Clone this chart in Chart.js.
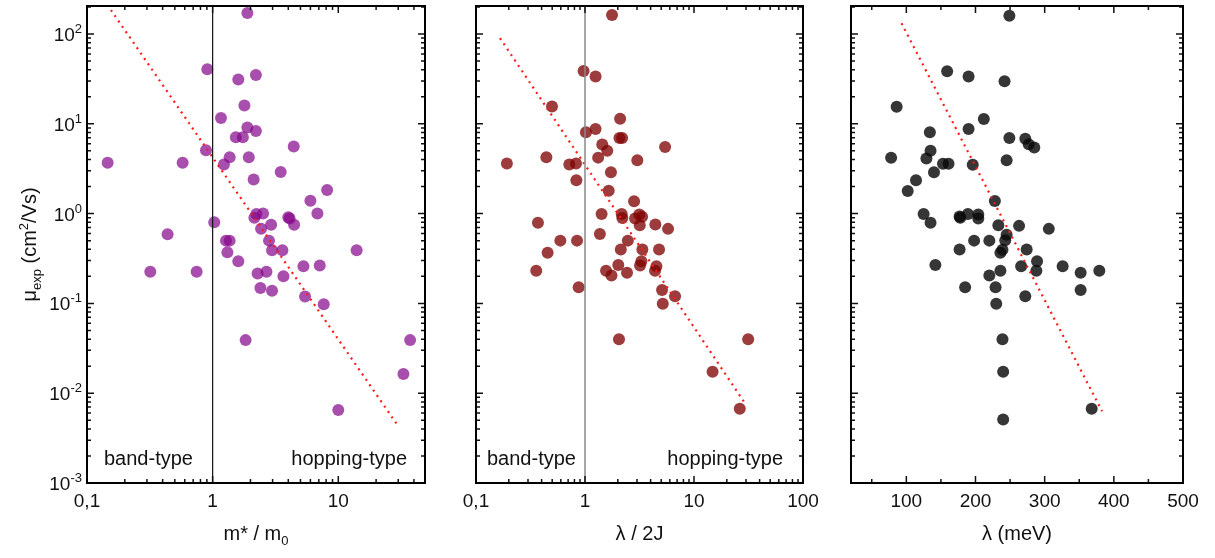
<!DOCTYPE html>
<html>
<head>
<meta charset="utf-8">
<script src="https://cdn.jsdelivr.net/npm/chart.js@4.4.0/dist/chart.umd.min.js"></script>
<style>
  body { margin: 0; background: #fff; }
  #wrap { position: relative; width: 1215px; height: 558px; }
  canvas { position: absolute; top: 0; }
</style>
</head>
<body>
<div id="wrap">
  <canvas id="c1" width="440" height="558" style="left:0px"></canvas>
  <canvas id="c2" width="390" height="558" style="left:440px"></canvas>
  <canvas id="c3" width="385" height="558" style="left:830px"></canvas>
</div>
<script>
// panel 1: mobility vs effective mass
const massRatio = [1.89,0.907,1.60,2.21,1.79,1.165,1.89,2.21,1.53,1.74,4.42,0.885,0.146,0.577,1.23,1.366,1.94,2.12,3.48,8.15,6.0,6.82,1.03,2.23,2.52,2.15,4.0,4.1,4.45,2.92,2.43,0.438,1.277,1.366,2.81,1.31,2.97,3.59,14.0,1.60,5.28,7.12,0.319,0.746,2.28,2.68,3.66,2.4,2.97,5.44,7.66,1.83,37.3,33.0,10.0];
const muMass = [171,40.5,31.1,35,16.0,11.6,9.1,8.3,7.1,7.1,5.6,5.06,3.69,3.69,3.53,4.23,4.25,2.4,2.9,1.83,1.39,1.0,0.80,0.99,1.0,0.90,0.91,0.88,0.75,0.75,0.68,0.59,0.50,0.50,0.50,0.37,0.39,0.39,0.39,0.295,0.26,0.265,0.225,0.225,0.215,0.225,0.2,0.148,0.138,0.119,0.098,0.039,0.039,0.0164,0.0065];
const fitMassX = [0.155, 29];
const fitMassY = [185, 0.0046];

// panel 2: mobility vs lambda/2J
const lambda2J = [1.77,0.97,1.25,0.498,2.10,1.25,1.02,2.07,2.19,1.44,5.43,1.60,0.192,0.442,0.718,0.827,1.32,3.02,0.833,1.73,1.65,2.82,1.42,2.17,2.2,2.88,3.15,3.34,3.18,4.42,5.78,0.37,1.37,0.594,0.845,2.47,2.13,3.36,4.78,0.454,3.29,2.02,3.2,4.52,0.357,1.56,2.43,4.39,1.75,0.875,5.09,6.7,5.17,2.05,31.4,14.8,26.3];
const muLambda2J = [163,38.8,33.6,15.6,11.4,8.73,8.07,6.94,6.94,5.89,5.5,5.01,3.62,4.23,3.53,3.62,4.2,3.92,2.35,2.88,1.8,1.37,0.99,0.99,0.895,0.88,0.98,0.92,0.74,0.755,0.676,0.79,0.594,0.50,0.50,0.50,0.398,0.398,0.398,0.366,0.295,0.267,0.265,0.26,0.231,0.231,0.219,0.231,0.205,0.151,0.141,0.12,0.099,0.040,0.040,0.0173,0.0067];
const fit2JX = [0.166, 29];
const fit2JY = [90, 0.0079];

// panel 3: mobility vs lambda (meV)
const lambdaMeV = [249,159,190,242,86,212,190,134,249,272,277,285,135,78,129,153,161,196,245,140,114,102,228,125,177,178,189,204,204,135,233,263,306,245,198,220,243,177,239,236,274,289,142,266,326,236,288,352,379,220,185,229,272,352,230,239,240,240,368];
const muLambdaMeV = [160,38.5,33.6,29.8,15.5,11.3,8.73,8.07,6.94,6.81,5.9,5.45,5.0,4.19,4.1,3.59,3.59,3.5,3.92,2.88,2.35,1.79,1.38,0.99,0.93,0.9,0.99,0.98,0.88,0.79,0.74,0.73,0.676,0.58,0.50,0.50,0.505,0.398,0.395,0.366,0.398,0.295,0.267,0.26,0.26,0.231,0.231,0.219,0.231,0.205,0.151,0.151,0.12,0.141,0.099,0.040,0.0173,0.0051,0.0067];
const fitMeVX = [93, 383];
const fitMeVY = [132, 0.0063];

// tick labels (y labels are 10 with these exponents)
const yTickValues = [0.001, 0.01, 0.1, 1, 10, 100];
const yTickExponents = ['-3', '-2', '-1', '0', '1', '2'];
const xTickValues1 = [0.1, 1, 10];
const xTickLabels1 = ['0,1', '1', '10'];
const xTickValues2 = [0.1, 1, 10, 100];
const xTickLabels2 = ['0,1', '1', '10', '100'];
const xTickValues3 = [100, 200, 300, 400, 500];
const xTickLabels3 = ['100', '200', '300', '400', '500'];

const FONT = "'Liberation Sans', Arial, sans-serif";
const Y_MIN = 0.001, Y_MAX = 205;

function pts(xs, ys) {
    return xs.map((x, i) => ({ x: x, y: ys[i] }));
}

function logSteps(min, max) {
    var out = [];
    for (var d = Math.floor(Math.log10(min)); d <= Math.ceil(Math.log10(max)); d++) {
        for (var k = 1; k <= 9; k++) {
            var v = k * Math.pow(10, d);
            if (v >= min * 0.999 && v <= max * 1.001) out.push({ v: v, major: k === 1 });
        }
    }
    return out;
}

// draw text made of runs (for sub/superscripts); align 'center' or 'right'
function drawRuns(ctx, runs, x, y, align) {
    var w = 0;
    runs.forEach(r => { ctx.font = r.size + 'px ' + FONT; w += ctx.measureText(r.t).width; });
    var cx = align === 'right' ? x - w : x - w / 2;
    runs.forEach(r => {
        ctx.font = r.size + 'px ' + FONT;
        ctx.fillText(r.t, cx, y + (r.dy || 0));
        cx += ctx.measureText(r.t).width;
    });
}

// frame, inward ticks on all sides, divider line, labels
const frameTicks = {
    id: 'frameTicks',
    afterDraw(chart, args, o) {
        const ctx = chart.ctx;
        const a = chart.chartArea;
        const xs = chart.scales.x, ys = chart.scales.y;
        ctx.save();

        if (o.divider) {
            const px = xs.getPixelForValue(1);
            ctx.strokeStyle = o.divider;
            ctx.lineWidth = o.dividerWidth;
            ctx.beginPath();
            ctx.moveTo(px, a.top);
            ctx.lineTo(px, a.bottom);
            ctx.stroke();
        }

        ctx.strokeStyle = '#111';
        ctx.lineWidth = 1.5;
        ctx.beginPath();
        logSteps(Y_MIN, Y_MAX).forEach(t => {
            const py = ys.getPixelForValue(t.v);
            const len = t.major ? 7 : 4;
            ctx.moveTo(a.left, py); ctx.lineTo(a.left + len, py);
            ctx.moveTo(a.right, py); ctx.lineTo(a.right - len, py);
        });
        var xt;
        if (o.xLog) {
            xt = logSteps(xs.min, xs.max);
        } else {
            xt = [];
            for (var v = 50; v <= xs.max; v += 50) xt.push({ v: v, major: v % 100 === 0 });
        }
        xt.forEach(t => {
            const px = xs.getPixelForValue(t.v);
            const len = t.major ? 7 : 4;
            ctx.moveTo(px, a.bottom); ctx.lineTo(px, a.bottom - len);
            ctx.moveTo(px, a.top); ctx.lineTo(px, a.top + len);
        });
        ctx.stroke();

        ctx.lineWidth = 2;
        ctx.strokeStyle = '#000';
        ctx.strokeRect(a.left, a.top, a.right - a.left, a.bottom - a.top);

        ctx.fillStyle = '#111';
        ctx.textBaseline = 'alphabetic';
        if (o.regions) {
            ctx.font = '20px ' + FONT;
            ctx.textAlign = 'left';
            ctx.fillText('band-type', a.left + o.regions[0], a.bottom - 18);
            ctx.textAlign = 'right';
            ctx.fillText('hopping-type', a.right - o.regions[1], a.bottom - 18);
        }
        ctx.textAlign = 'left';

        // y tick labels 10^n
        if (o.yLabels) {
            yTickValues.forEach((v, i) => {
                const py = ys.getPixelForValue(v);
                drawRuns(ctx, [{ t: '10', size: 19 }, { t: yTickExponents[i], size: 13, dy: -8 }], a.left - 5, py + 7, 'right');
            });
        }

        drawRuns(ctx, o.xTitle, (a.left + a.right) / 2, 540);

        if (o.yTitle) {
            ctx.translate(36, (a.top + a.bottom) / 2);
            ctx.rotate(-Math.PI / 2);
            drawRuns(ctx, o.yTitle, 0, 0);
        }
        ctx.restore();
    }
};

function makeChart(id, cfg) {
    const xScale = {
        type: cfg.xLog ? 'logarithmic' : 'linear',
        min: cfg.xMin,
        max: cfg.xMax,
        afterBuildTicks: s => { s.ticks = cfg.xTicks.map(v => ({ value: v })); },
        ticks: {
            callback: (v) => cfg.xLabels[cfg.xTicks.indexOf(v)],
            font: { family: FONT, size: 19 },
            color: '#111',
            padding: 4,
            maxRotation: 0,
            autoSkip: false
        },
        grid: { display: false, drawTicks: true, tickLength: 3, color: 'rgba(0,0,0,0)' },
        border: { display: false },
        afterFit: s => { s.height = 75; }
    };
    const yScale = {
        type: 'logarithmic',
        min: Y_MIN,
        max: Y_MAX,
        afterBuildTicks: s => { s.ticks = yTickValues.map(v => ({ value: v })); },
        ticks: { display: false },
        grid: { display: false },
        border: { display: false },
        afterFit: s => { s.width = cfg.yWidth; }
    };
    return new Chart(document.getElementById(id), {
        type: 'scatter',
        data: {
            datasets: [
                {
                    type: 'line',
                    data: pts(cfg.fitX, cfg.fitY),
                    borderColor: '#ff1a1a',
                    borderWidth: 2.2,
                    borderDash: [2, 4.5],
                    pointRadius: 0,
                    fill: false
                },
                {
                    data: pts(cfg.xs, cfg.ys),
                    backgroundColor: cfg.color,
                    borderWidth: 0,
                    pointRadius: 6,
                    pointHoverRadius: 6
                }
            ]
        },
        options: {
            responsive: false,
            animation: false,
            devicePixelRatio: 1,
            layout: { padding: { top: 5, right: cfg.padRight, left: 0, bottom: 0 } },
            plugins: {
                legend: { display: false },
                tooltip: { enabled: false },
                frameTicks: cfg.frame
            },
            scales: { x: xScale, y: yScale }
        },
        plugins: [frameTicks]
    });
}

makeChart('c1', {
    xs: massRatio, ys: muMass, fitX: fitMassX, fitY: fitMassY,
    color: 'rgba(135,10,140,0.72)',
    xLog: true, xMin: 0.1, xMax: 49, xTicks: xTickValues1, xLabels: xTickLabels1,
    yWidth: 87, padRight: 15,
    frame: {
        xLog: true, yLabels: true, divider: '#111', dividerWidth: 1.2, regions: [17, 18],
        xTitle: [{ t: 'm* / m', size: 20 }, { t: '0', size: 13, dy: 5 }],
        yTitle: [{ t: 'μ', size: 20 }, { t: 'exp', size: 13, dy: 5 }, { t: ' (cm', size: 20 }, { t: '2', size: 13, dy: -8 }, { t: '/Vs)', size: 20 }]
    }
});

makeChart('c2', {
    xs: lambda2J, ys: muLambda2J, fitX: fit2JX, fitY: fit2JY,
    color: 'rgba(128,5,5,0.78)',
    xLog: true, xMin: 0.1, xMax: 100, xTicks: xTickValues2, xLabels: xTickLabels2,
    yWidth: 36, padRight: 27,
    frame: {
        xLog: true, divider: '#888', dividerWidth: 1.5, regions: [11, 20],
        xTitle: [{ t: 'λ / 2J', size: 20 }]
    }
});

makeChart('c3', {
    xs: lambdaMeV, ys: muLambdaMeV, fitX: fitMeVX, fitY: fitMeVY,
    color: 'rgba(10,10,10,0.82)',
    xLog: false, xMin: 20, xMax: 500, xTicks: xTickValues3, xLabels: xTickLabels3,
    yWidth: 21, padRight: 32,
    frame: {
        xLog: false,
        xTitle: [{ t: 'λ (meV)', size: 20 }]
    }
});
</script>
</body>
</html>
